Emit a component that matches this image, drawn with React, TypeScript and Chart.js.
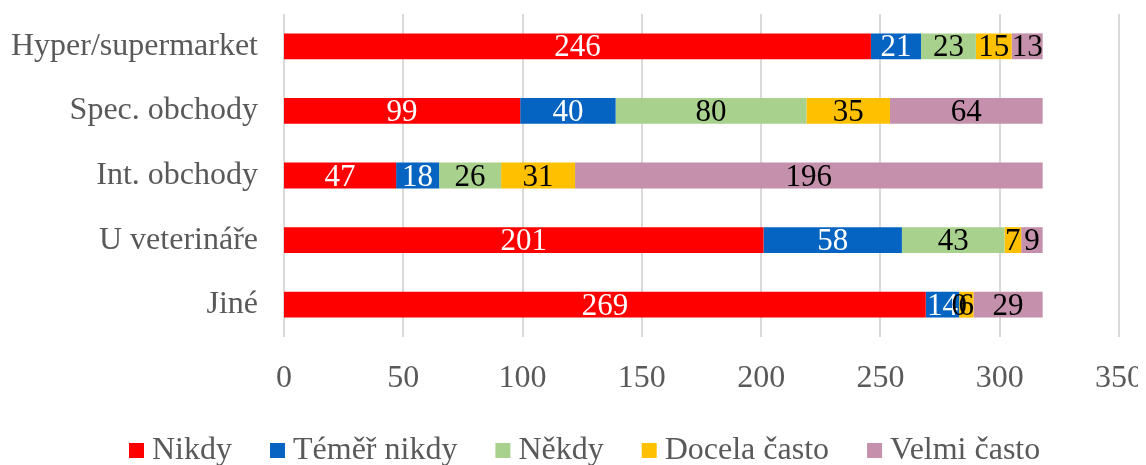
import React, { useEffect, useRef } from "react";
import { Chart, registerables } from "chart.js";

Chart.register(...registerables);

const categories = ["Hyper/supermarket", "Spec. obchody", "Int. obchody", "U veterináře", "Jiné"];
const seriesNames = ["Nikdy", "Téměř nikdy", "Někdy", "Docela často", "Velmi často"];
const nikdy = [246, 99, 47, 201, 269];
const temerNikdy = [21, 40, 18, 58, 14];
const nekdy = [23, 80, 26, 43, 0];
const docelaCasto = [15, 35, 31, 7, 6];
const velmiCasto = [13, 64, 196, 9, 29];
const xTicks = [0, 50, 100, 150, 200, 250, 300, 350];

const colors = ["#FF0000", "#0563C1", "#A9D18E", "#FFC000", "#C490AC"];
const labelColors = ["#FFFFFF", "#FFFFFF", "#000000", "#000000", "#000000"];

const FONT = "'Liberation Serif', 'Times New Roman', serif";
const TEXT_GREY = "#595959";

const gridLines = {
  id: "gridLines",
  beforeDatasetsDraw(chart: any) {
    const ctx = chart.ctx;
    const xs = chart.scales.x;
    const area = chart.chartArea;
    ctx.save();
    ctx.strokeStyle = "#D9D9D9";
    ctx.lineWidth = 2;
    xTicks.forEach((v) => {
      const px = Math.round(xs.getPixelForValue(v));
      ctx.beginPath();
      ctx.moveTo(px, area.top);
      ctx.lineTo(px, area.bottom);
      ctx.stroke();
    });
    ctx.restore();
  },
};

const valueLabels = {
  id: "valueLabels",
  afterDatasetsDraw(chart: any) {
    const ctx = chart.ctx;
    ctx.save();
    ctx.font = `31px ${FONT}`;
    ctx.textAlign = "center";
    ctx.textBaseline = "middle";
    chart.data.datasets.forEach((ds: any, di: number) => {
      const meta = chart.getDatasetMeta(di);
      meta.data.forEach((el: any, i: number) => {
        const v = ds.data[i];
        const cx = (el.x + el.base) / 2;
        ctx.fillStyle = labelColors[di];
        ctx.fillText(String(v), cx, el.y + 2);
      });
    });
    ctx.restore();
  },
};

const customLegend = {
  id: "customLegend",
  afterDraw(chart: any) {
    const ctx = chart.ctx;
    ctx.save();
    ctx.font = `32px ${FONT}`;
    ctx.textBaseline = "alphabetic";
    ctx.textAlign = "left";
    let x = 121;
    const boxTop = 435;
    const baseline = 451;
    chart.data.datasets.forEach((ds: any, di: number) => {
      ctx.fillStyle = colors[di];
      ctx.fillRect(x, boxTop, 15, 15);
      x += 15 + 8;
      ctx.fillStyle = TEXT_GREY;
      ctx.fillText(ds.label, x, baseline);
      x += ctx.measureText(ds.label).width + 38;
    });
    ctx.restore();
  },
};

export default function App() {
  const ref = useRef<HTMLCanvasElement | null>(null);
  useEffect(() => {
    document.body.style.overflow = "hidden";
    if (!ref.current) return;
    const data = [nikdy, temerNikdy, nekdy, docelaCasto, velmiCasto];
    const chart = new Chart(ref.current, {
      type: "bar",
      data: {
        labels: categories,
        datasets: seriesNames.map((name, i) => ({
          label: name,
          data: data[i],
          backgroundColor: colors[i],
          borderWidth: 0,
          categoryPercentage: 1,
          barPercentage: 0.4,
        })),
      },
      options: {
        indexAxis: "y",
        animation: false,
        responsive: false,
        maintainAspectRatio: false,
        layout: { padding: { top: 6, right: 27, left: 0, bottom: 0 } },
        scales: {
          x: {
            stacked: true,
            min: 0,
            max: 350,
            afterBuildTicks(scale: any) {
              scale.ticks = xTicks.map((v) => ({ value: v }));
            },
            afterFit(scale: any) {
              scale.height = 128;
              scale.paddingRight = 27;
              scale.paddingLeft = 0;
            },
            ticks: {
              font: { family: FONT, size: 32 },
              color: TEXT_GREY,
              padding: 22,
              maxRotation: 0,
            },
            grid: { display: false, drawTicks: false },
            border: { display: false },
          },
          y: {
            stacked: true,
            afterFit(scale: any) {
              scale.width = 276;
              scale.paddingTop = 0;
              scale.paddingBottom = 0;
            },
            ticks: {
              font: { family: FONT, size: 32 },
              color: TEXT_GREY,
              padding: 26,
            },
            grid: { display: false, drawTicks: false },
            border: { display: false },
          },
        },
        plugins: {
          legend: { display: false },
          tooltip: { enabled: false },
        },
      },
      plugins: [gridLines, valueLabels, customLegend],
    });
    return () => chart.destroy();
  }, []);
  return (
    <div style={{ width: 1138, height: 457 }}>
      <canvas ref={ref} width={1138} height={457} style={{ display: "block" }} />
    </div>
  );
}
